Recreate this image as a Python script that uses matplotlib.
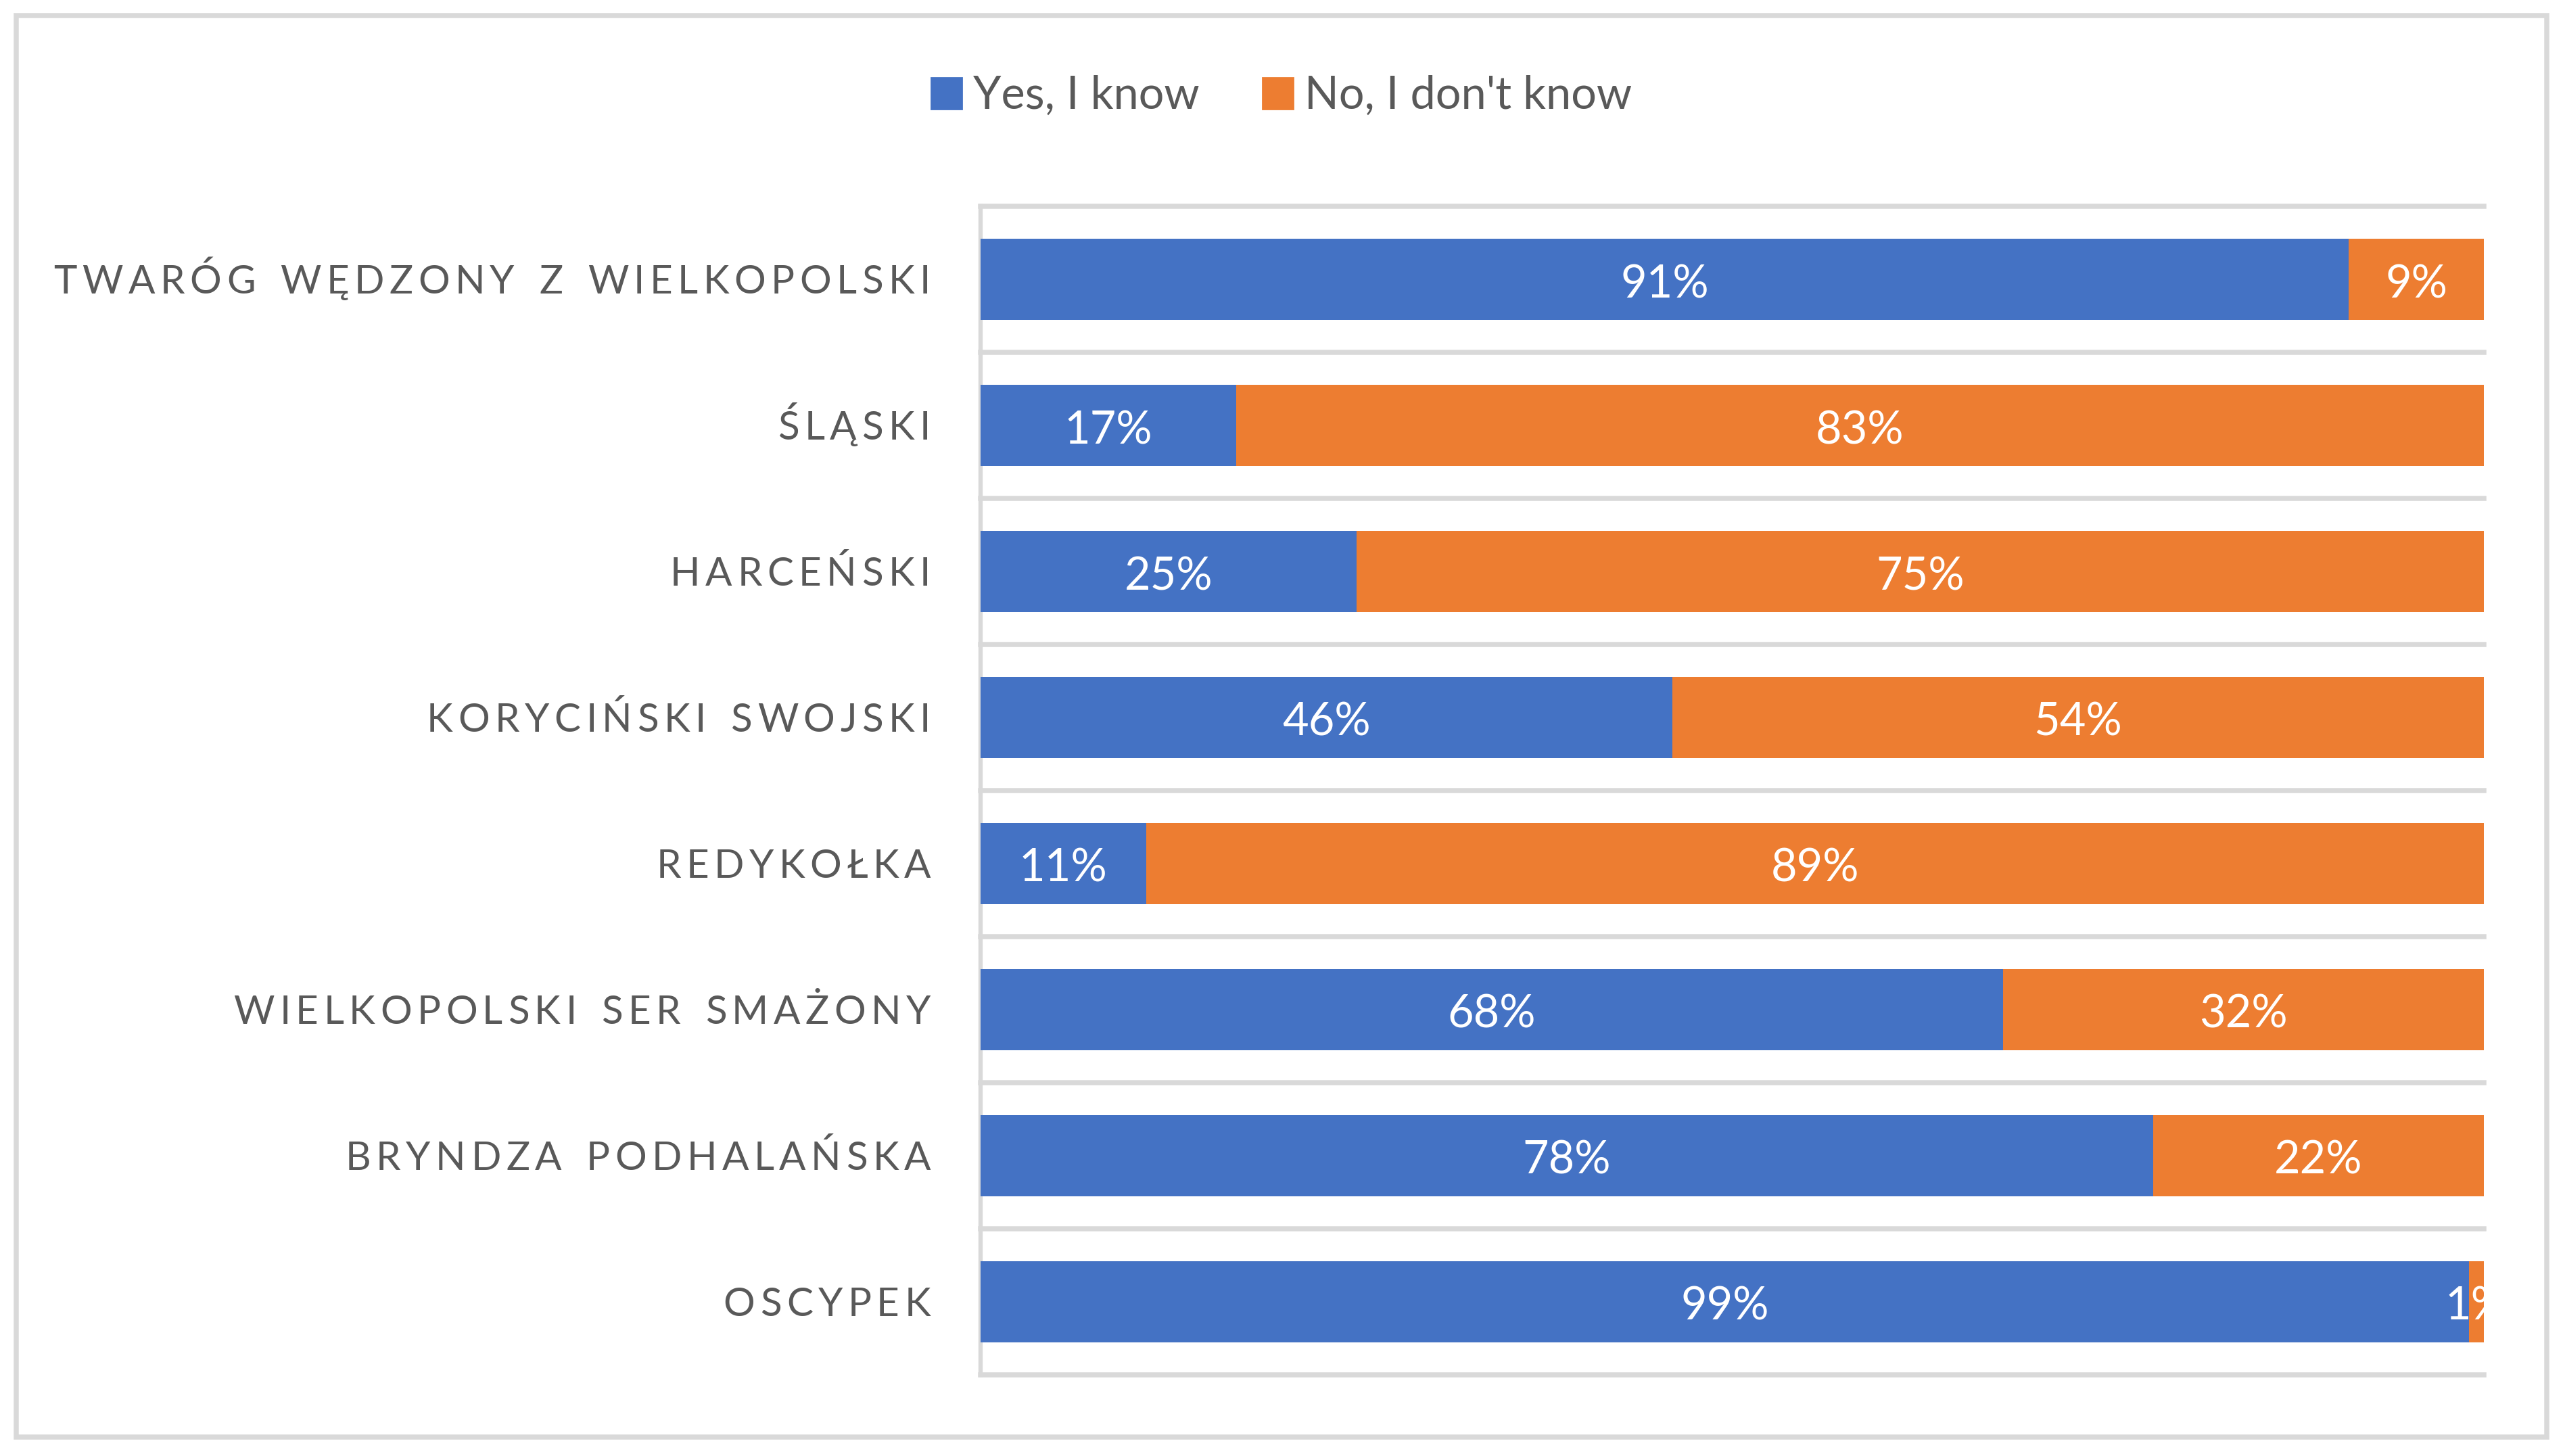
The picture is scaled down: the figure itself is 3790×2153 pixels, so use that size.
"""
Stacked horizontal bar chart: awareness of Polish regional cheeses.
"""

import matplotlib
matplotlib.use("Agg")
import matplotlib.pyplot as plt
from matplotlib.patches import Rectangle, Patch
from matplotlib.transforms import IdentityTransform

plt.rcParams["font.family"] = ["Lato", "DejaVu Sans"]

# -- Data (top to bottom) ---------------------------------------------------
categories = [
    "TWARÓG WĘDZONY Z WIELKOPOLSKI",
    "ŚLĄSKI",
    "HARCEŃSKI",
    "KORYCIŃSKI SWOJSKI",
    "REDYKOŁKA",
    "WIELKOPOLSKI SER SMAŻONY",
    "BRYNDZA PODHALAŃSKA",
    "OSCYPEK",
]
yes_know = [91, 17, 25, 46, 11, 68, 78, 99]
no_know = [9, 83, 75, 54, 89, 32, 22, 1]
series_names = ["Yes, I know", "No, I don't know"]

BLUE = "#4472C4"
ORANGE = "#ED7D31"
TEXT_GRAY = "#595959"
LINE_GRAY = "#D9D9D9"
W, H = 3790, 2153
DPI = 200

LABEL_SIZE = 21
LETTER_GAP = 7.5  # px between glyph boxes (emulates Excel character spacing)
WORD_GAP = 36.5   # px between words
LABEL_RIGHT = 1376
CAP_PX = 42


fig = plt.figure(figsize=(W / DPI, H / DPI), dpi=DPI)
renderer = fig.canvas.get_renderer()

# outer chart border
fig.patches.append(Rectangle(
    (24 / W, 1 - 2125 / H), (3766 - 24) / W, (2125 - 23) / H,
    transform=fig.transFigure, fill=False,
    edgecolor=LINE_GRAY, linewidth=2.7,
))

ax = fig.add_axes([1450 / W, 1 - 2033 / H, (3673 - 1450) / W, (2033 - 305) / H])

ypos = list(range(len(categories)))
bar_h = 0.555
ax.barh(ypos, yes_know, height=bar_h, color=BLUE, zorder=3)
ax.barh(ypos, no_know, left=yes_know, height=bar_h, color=ORANGE, zorder=3)

# -- Data labels ---------------------------------------------------------
for i, (a, b) in enumerate(zip(yes_know, no_know)):
    ax.text(a / 2, i + 0.125, f"{a}%", ha="center", va="baseline",
            color="white", fontsize=24, zorder=4, clip_on=True)
    ax.text(a + b / 2, i + 0.125, f"{b}%", ha="center", va="baseline",
            color="white", fontsize=24, zorder=4, clip_on=True)

# -- Axes styling ----------------------------------------------------------
ax.set_xlim(0, 100)
ax.set_ylim(len(categories) - 0.5, -0.5)
for b in [k - 0.5 for k in range(len(categories) + 1)]:
    ax.axhline(b, color=LINE_GRAY, linewidth=2.7, zorder=1, clip_on=False)

for side in ["top", "right", "bottom"]:
    ax.spines[side].set_visible(False)
ax.spines["left"].set_color(LINE_GRAY)
ax.spines["left"].set_linewidth(2.3)
ax.set_xticks([])
ax.set_yticks([])


# -- Category labels with letter spacing ---------------------------------
def glyph_width(ch):
    t = fig.text(0, 0, ch, fontsize=LABEL_SIZE)
    w = t.get_window_extent(renderer).width
    t.remove()
    return w


for i, label in enumerate(categories):
    words = label.split(" ")
    widths = [[glyph_width(c) for c in wd] for wd in words]
    total = sum(sum(ws) + LETTER_GAP * (len(ws) - 1) for ws in widths)
    total += WORD_GAP * (len(words) - 1)
    yc = ax.transData.transform((0, i))[1]
    x = LABEL_RIGHT - total
    for wd, ws in zip(words, widths):
        for c, w in zip(wd, ws):
            fig.text(x, yc - CAP_PX / 2, c, fontsize=LABEL_SIZE, color=TEXT_GRAY,
                     ha="left", va="baseline", transform=IdentityTransform())
            x += w + LETTER_GAP
        x += WORD_GAP - LETTER_GAP

# -- Legend --------------------------------------------------------------
handles = [Patch(color=BLUE), Patch(color=ORANGE)]
fig.legend(
    handles, series_names, loc="center", ncol=2,
    bbox_to_anchor=(0.5, 1 - 142 / H), frameon=False,
    fontsize=24, labelcolor=TEXT_GRAY,
    handlelength=0.68, handleheight=0.68, handletextpad=0.25,
    columnspacing=1.4,
)

fig.savefig("out.png", dpi=DPI, facecolor="white")
plt.close(fig)
